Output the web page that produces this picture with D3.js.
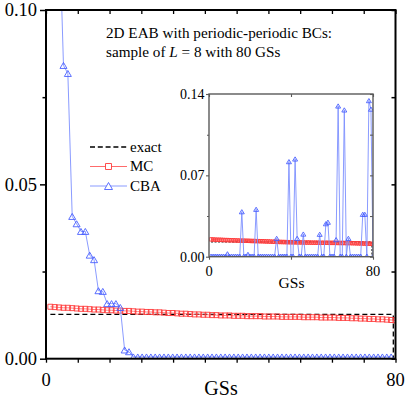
<!DOCTYPE html>
<html><head><meta charset="utf-8">
<script src="https://cdn.jsdelivr.net/npm/d3@7"></script>
<style>
body{margin:0;background:#fff}
svg{display:block}
text{font-family:"Liberation Serif","Times New Roman",serif;fill:#000}
</style>
</head><body><svg id="c" width="409" height="399"></svg>
<script>
// ---------------- data ----------------
const gsIndex = d3.range(1, 81);
const mcValues = [
  0.0149,0.0148,0.0147,0.0146,0.0146,0.0145,0.0144,0.0143,0.0143,0.0142,
  0.0141,0.0141,0.0140,0.0139,0.0139,0.0138,0.0138,0.0137,0.0137,0.0136,
  0.0135,0.0135,0.0134,0.0134,0.0133,0.0133,0.0132,0.0131,0.0131,0.0130,
  0.0129,0.0129,0.0128,0.0127,0.0127,0.0126,0.0126,0.0125,0.0125,0.0124,
  0.0124,0.0124,0.0123,0.0123,0.0123,0.0122,0.0122,0.0122,0.0122,0.0121,
  0.0121,0.0121,0.0121,0.0120,0.0120,0.0120,0.0120,0.0120,0.0119,0.0119,
  0.0119,0.0119,0.0118,0.0118,0.0118,0.0118,0.0117,0.0117,0.0117,0.0116,
  0.0116,0.0115,0.0115,0.0114,0.0114,0.0113,0.0113,0.0112,0.0111,0.0110
];
const cbaValues = [
  0.0005,0.0005,0.0005,0.0005,0.0005,0.0005,0.0005,0.0005,0.0025,0.0005,
  0.0005,0.0005,0.0005,0.0005,0.0005,0.0387,0.0005,0.0005,0.0020,0.0005,
  0.0005,0.0005,0.0408,0.0005,0.0005,0.0005,0.0005,0.0005,0.0005,0.0005,
  0.0005,0.0005,0.0158,0.0005,0.0005,0.0005,0.0005,0.0005,0.0818,0.0005,
  0.0005,0.0841,0.0158,0.0005,0.0005,0.0195,0.0005,0.0005,0.0005,0.0005,
  0.0005,0.0005,0.0005,0.0193,0.0005,0.0005,0.0284,0.0297,0.0005,0.0005,
  0.0005,0.0147,0.1297,0.0005,0.0005,0.1263,0.0005,0.0158,0.0005,0.0005,
  0.0005,0.0005,0.0005,0.0005,0.0365,0.0365,0.0005,0.1343,0.1270,0.0005
];
const sortedRank = d3.range(0, 80);
const exactGS = [1, 79.5, 79.5];
const exactValues = [0.0127, 0.0127, 0];

const mainYTicks = [0, 0.05, 0.10];
const mainYMinor = [0.025, 0.075];
const mainXLabels = [0, 80];
const mainXTickCount = 11;
const insetYTicks = [0, 0.07, 0.14];
const insetYMinor = [0.035, 0.105];
const insetXLabels = [0, 80];
const insetXTicks = [0, 40, 80];
const legendLabels = ["exact", "MC", "CBA"];
const axisTitle = "GSs";

const RED = "#ff3a3a", RED_LINE = "#ff5a5a";
const BLUE = "#4a60ff", BLUE_LINE = "#7d90ff";

const svg = d3.select("#c");
const fmt2 = d3.format(".2f");

// ---------------- scales ----------------
const xMain = d3.scaleLinear().domain([0, 80]).range([46, 395.5]);
const yMain = d3.scaleLinear().domain([0, 0.10]).range([358.7, 10]);
const xIn = d3.scaleLinear().domain([0, 80]).range([209, 373]);
const yIn = d3.scaleLinear().domain([0, 0.14]).range([256.7, 94]);

function triPath(w, h){ return `M0,${-h/2}L${w/2},${h/2}L${-w/2},${h/2}Z`; }
function sqPath(s){ return `M${-s/2},${-s/2}h${s}v${s}h${-s}Z`; }

function drawPanel(id, x, y, o){
  const [x0,x1] = x.range(), [y0,y1] = y.range();
  svg.append("clipPath").attr("id", id).append("rect")
    .attr("x", x0).attr("y", y1).attr("width", x1-x0+o.clipExtra).attr("height", y0-y1);
  const g = svg.append("g").attr("clip-path", `url(#${id})`);
  const line = d3.line().x(d=>x(d[0])).y(d=>y(d[1]));
  // exact
  g.append("path").datum(d3.zip(exactGS, exactValues)).attr("d", line)
    .attr("fill","none").attr("stroke","#000").attr("stroke-width", o.exactW)
    .attr("stroke-dasharray", o.dash);
  // MC
  const mc = d3.zip(gsIndex, mcValues);
  g.append("path").datum(mc).attr("d", line).attr("fill","none")
    .attr("stroke", RED_LINE).attr("stroke-width", 0.8);
  g.selectAll(null).data(mc).join("path")
    .attr("transform", d=>`translate(${x(d[0])},${y(d[1])})`)
    .attr("d", sqPath(o.sq)).attr("fill","none").attr("stroke", RED).attr("stroke-width", 0.9);
  // CBA
  const cba = o.cba;
  g.append("path").datum(cba).attr("d", line).attr("fill","none")
    .attr("stroke", BLUE_LINE).attr("stroke-width", 0.9);
  g.selectAll(null).data(cba).join("path")
    .attr("transform", d=>`translate(${x(d[0])},${y(d[1])})`)
    .attr("d", triPath(o.triW, o.triH)).attr("fill","none").attr("stroke", BLUE).attr("stroke-width", 0.9);
}

// ---------------- main panel ----------------
const cbaSorted = d3.sort(cbaValues, d3.descending);
drawPanel("clipMain", xMain, yMain, {
  cba: d3.zip(sortedRank, cbaSorted), sq: 5, triW: 7, triH: 6,
  exactW: 1.3, dash: "5,3", clipExtra: 0
});

// main frame & ticks
const gm = svg.append("g");
const xt = d3.range(mainXTickCount + 1).map(i => i * 80 / mainXTickCount);
gm.append("g").attr("transform", `translate(0,${yMain(0)})`)
  .call(d3.axisBottom(xMain).tickValues(xt).tickSize(4).tickSizeOuter(0).tickFormat(""))
  .call(a => a.select(".domain").remove())
  .call(a => a.selectAll("line").attr("stroke-width", 1.3));
gm.append("g").attr("transform", `translate(0,${yMain(0.1)})`)
  .call(d3.axisBottom(xMain).tickValues(xt).tickSize(4).tickSizeOuter(0).tickFormat(""))
  .call(a => a.select(".domain").remove())
  .call(a => a.selectAll("line").attr("stroke-width", 1.3));
gm.append("g").attr("transform", `translate(${xMain(0)},0)`)
  .call(d3.axisLeft(yMain).tickValues(mainYTicks).tickSize(6).tickSizeOuter(0).tickFormat(""))
  .call(a => a.select(".domain").remove())
  .call(a => a.selectAll("line").attr("stroke-width", 1.5));
gm.append("g").attr("transform", `translate(${xMain(0)},0)`)
  .call(d3.axisLeft(yMain).tickValues(mainYMinor).tickSize(3.5).tickSizeOuter(0).tickFormat(""))
  .call(a => a.select(".domain").remove())
  .call(a => a.selectAll("line").attr("stroke-width", 1.5));
gm.append("g").attr("transform", `translate(${xMain(80)},0)`)
  .call(d3.axisLeft(yMain).tickValues(mainYTicks.concat(mainYMinor)).tickSize(4).tickSizeOuter(0).tickFormat(""))
  .call(a => a.select(".domain").remove())
  .call(a => a.selectAll("line").attr("stroke-width", 1.5));
gm.append("rect").attr("x", xMain(0)).attr("y", yMain(0.1))
  .attr("width", xMain(80)-xMain(0)).attr("height", yMain(0)-yMain(0.1))
  .attr("fill","none").attr("stroke","#000").attr("stroke-width", 2);
gm.selectAll(null).data(mainYTicks).join("text")
  .attr("x", 37).attr("y", d=>yMain(d)).attr("dy","0.35em").attr("text-anchor","end")
  .attr("font-size", 18.5).text(d=>fmt2(d));
gm.selectAll(null).data(mainXLabels).join("text")
  .attr("x", d=>xMain(d)).attr("y", 385.5).attr("text-anchor","middle")
  .attr("font-size", 18.5).text(d=>d);
gm.append("text").attr("x", 221).attr("y", 395).attr("text-anchor","middle")
  .attr("font-size", 20).text(axisTitle);

// title
const tt = svg.append("text").attr("x", 106).attr("font-size", 15.2);
tt.append("tspan").attr("x", 106).attr("y", 38).text("2D EAB with periodic-periodic BCs:");
const t2 = tt.append("tspan").attr("x", 106).attr("y", 56.5);
t2.text("sample of ");
tt.append("tspan").attr("font-style","italic").text("L");
tt.append("tspan").text(" = 8 with 80 GSs");

// legend
const lg = svg.append("g");
const legY = [147, 166.5, 186];
lg.append("line").attr("x1", 90).attr("x2", 127).attr("y1", legY[0]).attr("y2", legY[0])
  .attr("stroke","#000").attr("stroke-width",1.3).attr("stroke-dasharray","5,2.8");
lg.append("line").attr("x1", 90).attr("x2", 127).attr("y1", legY[1]).attr("y2", legY[1])
  .attr("stroke", RED_LINE).attr("stroke-width",0.9);
lg.append("path").attr("transform",`translate(108.5,${legY[1]})`).attr("d", sqPath(6))
  .attr("fill","#fff").attr("stroke",RED).attr("stroke-width",0.9);
lg.append("line").attr("x1", 90).attr("x2", 127).attr("y1", legY[2]).attr("y2", legY[2])
  .attr("stroke", BLUE_LINE).attr("stroke-width",0.9);
lg.append("path").attr("transform",`translate(108.5,${legY[2]})`).attr("d", triPath(8,7))
  .attr("fill","#fff").attr("stroke",BLUE).attr("stroke-width",0.9);
lg.selectAll(null).data(legendLabels).join("text")
  .attr("x", 130).attr("y", (d,i)=>legY[i]).attr("dy","0.33em").attr("font-size", 15).text(d=>d);

// ---------------- inset ----------------
svg.append("rect").attr("x", xIn(0)).attr("y", yIn(0.14))
  .attr("width", xIn(80)-xIn(0)).attr("height", yIn(0)-yIn(0.14)).attr("fill","#fff");
drawPanel("clipIn", xIn, yIn, {
  cba: d3.zip(gsIndex, cbaValues), sq: 3.4, triW: 5, triH: 4.2,
  exactW: 1, dash: "2,1.5", clipExtra: 0
});
const gi = svg.append("g");
const GREY = "#5a5a5a";
function sty(a){ a.select(".domain").remove(); a.selectAll("line").attr("stroke", GREY).attr("stroke-width", 1.1); }
gi.append("g").attr("transform", `translate(${xIn(0)},0)`)
  .call(d3.axisLeft(yIn).tickValues(insetYTicks).tickSize(3).tickSizeOuter(0).tickFormat("")).call(sty);
gi.append("g").attr("transform", `translate(${xIn(0)},0)`)
  .call(d3.axisLeft(yIn).tickValues(insetYMinor).tickSize(2).tickSizeOuter(0).tickFormat("")).call(sty);
gi.append("g").attr("transform", `translate(${xIn(80)},0)`)
  .call(d3.axisLeft(yIn).tickValues(insetYTicks.concat(insetYMinor)).tickSize(3).tickSizeOuter(0).tickFormat("")).call(sty);
gi.append("g").attr("transform", `translate(0,${yIn(0.14)})`)
  .call(d3.axisBottom(xIn).tickValues(insetXTicks).tickSize(3).tickSizeOuter(0).tickFormat("")).call(sty);
gi.append("g").attr("transform", `translate(0,${yIn(0)})`)
  .call(d3.axisBottom(xIn).tickValues(insetXTicks).tickSize(3).tickSizeOuter(0).tickFormat("")).call(sty);
gi.append("rect").attr("x", xIn(0)).attr("y", yIn(0.14))
  .attr("width", xIn(80)-xIn(0)).attr("height", yIn(0)-yIn(0.14))
  .attr("fill","none").attr("stroke", GREY).attr("stroke-width", 1.4);
gi.selectAll(null).data(insetYTicks).join("text")
  .attr("x", 204.5).attr("y", d=>yIn(d)).attr("dy","0.35em").attr("text-anchor","end")
  .attr("font-size", 14).text(d=>fmt2(d));
gi.selectAll(null).data(insetXLabels).join("text")
  .attr("x", d=>xIn(d)).attr("y", 275.5).attr("text-anchor","middle")
  .attr("font-size", 14.5).text(d=>d);
gi.append("text").attr("x", 291.5).attr("y", 287.5).attr("text-anchor","middle")
  .attr("font-size", 15.5).text(axisTitle);
</script>
</body></html>
